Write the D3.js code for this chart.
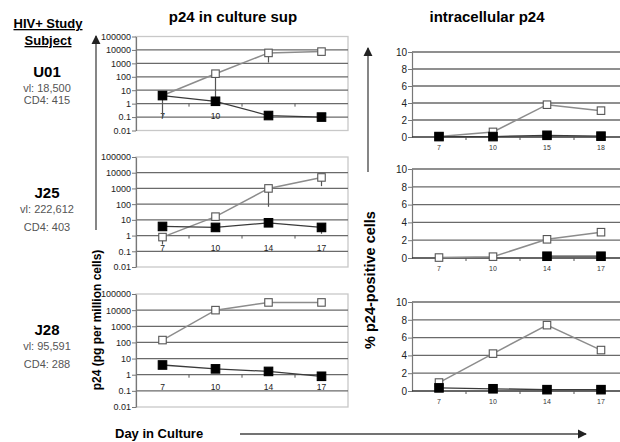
<!DOCTYPE html>
<html>
<head>
<meta charset="utf-8">
<script src="https://cdn.jsdelivr.net/npm/d3@7"></script>
<style>
body { margin: 0; background: #fff; }
text { font-family: "Liberation Sans", Arial, sans-serif; }
</style>
</head>
<body>
<svg id="chart" width="620" height="442"></svg>
<script>
// subjects
const subjects = ['U01', 'J25', 'J28'];
const viralLoads = ['vl: 18,500', 'vl: 222,612', 'vl: 95,591'];
const cd4Counts = ['CD4: 415', 'CD4: 403', 'CD4: 288'];

// p24 in culture sup (pg per million cells), log scale
const supDays = [['7', '10', '14', '17'], ['7', '10', '14', '17'], ['7', '10', '14', '17']];
const supOpen = [[4, 170, 6000, 7500], [0.8, 16, 1000, 5000], [140, 10000, 30000, 30000]];
const supFilled = [[4, 1.5, 0.13, 0.1], [3.8, 3.3, 6.5, 3.3], [4, 2.3, 1.6, 0.8]];
// lower ends of the error bars (null = none drawn)
const supOpenLow = [[null, 1.6, 1150, null], [0.27, null, 68, 1400], [null, null, null, null]];
const supFilledLow = [[0.1, null, null, null], [null, null, null, 1.3], [null, null, null, null]];
const supTicks = [0.01, 0.1, 1, 10, 100, 1000, 10000, 100000];

// intracellular p24 (% positive cells)
const intraDays = [['7', '10', '15', '18'], ['7', '10', '14', '17'], ['7', '10', '14', '17']];
const intraOpen = [[0.05, 0.6, 3.8, 3.1], [0.05, 0.15, 2.1, 2.9], [0.95, 4.2, 7.4, 4.6]];
const intraFilled = [[0.05, 0.05, 0.2, 0.1], [null, null, 0.2, 0.2], [0.35, 0.25, 0.15, 0.15]];
const intraTicks = [0, 2, 4, 6, 8, 10];

var svg = d3.select('#chart');

var leftSlots = [[36.5, 130.5], [157, 267], [294, 407]];
var rightSlots = [[52, 137], [169, 258], [302, 391]];

function drawSeries(g, x, y, days, values, lows, kind) {
  var pts = days.map(function (d, i) { return {day: d, v: values[i], low: lows ? lows[i] : null}; })
    .filter(function (p) { return p.v !== null; });

  var line = d3.line().x(function (p) { return x(p.day); }).y(function (p) { return y(p.v); });
  g.append('path')
    .attr('d', line(pts))
    .attr('fill', 'none')
    .attr('stroke', kind === 'open' ? '#8c8c8c' : '#3a3a3a')
    .attr('stroke-width', kind === 'open' ? 1.5 : 1.3);

  g.selectAll('.err-' + kind).data(pts.filter(function (p) { return p.low !== null; }))
    .enter().append('line')
    .attr('x1', function (p) { return x(p.day); })
    .attr('x2', function (p) { return x(p.day); })
    .attr('y1', function (p) { return y(p.v); })
    .attr('y2', function (p) { return y(p.low); })
    .attr('stroke', '#555')
    .attr('stroke-width', 1.2);

  var s = kind === 'open' ? 7.5 : 8.5;
  g.selectAll('.mk-' + kind).data(pts).enter().append('rect')
    .attr('x', function (p) { return x(p.day) - s / 2; })
    .attr('y', function (p) { return y(p.v) - s / 2; })
    .attr('width', s)
    .attr('height', s)
    .attr('fill', kind === 'open' ? '#fff' : '#000')
    .attr('stroke', kind === 'open' ? '#555' : '#000')
    .attr('stroke-width', 1.1);
}

function drawSupPanel(i) {
  var top = leftSlots[i][0], bottom = leftSlots[i][1];
  var x = d3.scalePoint().domain(supDays[i]).range([136, 348]).padding(0.5);
  var y = d3.scaleLog().domain([0.01, 100000]).range([bottom, top]);
  var g = svg.append('g');

  g.append('rect')
    .attr('x', 136).attr('y', top).attr('width', 212).attr('height', bottom - top)
    .attr('fill', 'none').attr('stroke', '#c8c8c8').attr('stroke-width', 1.3);

  g.selectAll('.grid').data(supTicks.slice(1, -1)).enter().append('line')
    .attr('x1', 136).attr('x2', 348)
    .attr('y1', function (d) { return y(d); }).attr('y2', function (d) { return y(d); })
    .attr('stroke', '#6a6a6a').attr('stroke-width', 1.3);

  var ax = g.append('g').attr('transform', 'translate(136,0)')
    .call(d3.axisLeft(y).tickValues(supTicks).tickFormat(String).tickSize(4).tickSizeOuter(0));
  ax.select('.domain').attr('stroke', '#777').attr('stroke-width', 1.2);
  ax.selectAll('.tick line').attr('stroke', '#777');
  ax.selectAll('text').attr('font-size', 9).attr('fill', '#222').attr('x', -5);

  // category axis crosses at 1
  var y1 = y(1);
  var step = x.step();
  g.selectAll('.xt').data(d3.range(1, supDays[i].length)).enter().append('line')
    .attr('x1', function (k) { return 136 + k * step; })
    .attr('x2', function (k) { return 136 + k * step; })
    .attr('y1', y1).attr('y2', y1 + 3)
    .attr('stroke', '#555');
  g.selectAll('.xl').data(supDays[i]).enter().append('text')
    .attr('x', function (d) { return x(d); })
    .attr('y', y1 + 15)
    .attr('text-anchor', 'middle')
    .attr('font-size', 8.5)
    .attr('fill', '#222')
    .text(function (d) { return d; });

  drawSeries(g, x, y, supDays[i], supOpen[i], supOpenLow[i], 'open');
  drawSeries(g, x, y, supDays[i], supFilled[i], supFilledLow[i], 'filled');
}

function drawIntraPanel(i) {
  var top = rightSlots[i][0], bottom = rightSlots[i][1];
  var x = d3.scalePoint().domain(intraDays[i]).range([412, 628]).padding(0.5);
  var y = d3.scaleLinear().domain([0, 10]).range([bottom, top]);
  var g = svg.append('g');

  g.selectAll('.grid').data(intraTicks.slice(1)).enter().append('line')
    .attr('x1', 412).attr('x2', 628)
    .attr('y1', function (d) { return y(d); }).attr('y2', function (d) { return y(d); })
    .attr('stroke', '#6a6a6a').attr('stroke-width', 1.3);

  var ax = g.append('g').attr('transform', 'translate(412,0)')
    .call(d3.axisLeft(y).tickValues(intraTicks).tickSize(4).tickSizeOuter(0));
  ax.select('.domain').attr('stroke', '#777').attr('stroke-width', 1.2);
  ax.selectAll('.tick line').attr('stroke', '#777');
  ax.selectAll('text').attr('font-size', 10).attr('fill', '#222').attr('x', -5);

  g.append('line').attr('x1', 412).attr('x2', 628).attr('y1', y(0)).attr('y2', y(0))
    .attr('stroke', '#333').attr('stroke-width', 1.6);
  var step = x.step();
  g.selectAll('.xt').data(d3.range(1, intraDays[i].length)).enter().append('line')
    .attr('x1', function (k) { return 412 + k * step; })
    .attr('x2', function (k) { return 412 + k * step; })
    .attr('y1', y(0)).attr('y2', y(0) + 3)
    .attr('stroke', '#555');
  g.selectAll('.xl').data(intraDays[i]).enter().append('text')
    .attr('x', function (d) { return x(d); })
    .attr('y', y(0) + 13)
    .attr('text-anchor', 'middle')
    .attr('font-size', 7)
    .attr('fill', '#333')
    .text(function (d) { return d; });

  drawSeries(g, x, y, intraDays[i], intraOpen[i], null, 'open');
  drawSeries(g, x, y, intraDays[i], intraFilled[i], null, 'filled');
}

d3.range(3).forEach(drawSupPanel);
d3.range(3).forEach(drawIntraPanel);

// titles
svg.append('text').attr('x', 233).attr('y', 22).attr('text-anchor', 'middle')
  .attr('font-size', 15).attr('font-weight', 'bold').text('p24 in culture sup');
svg.append('text').attr('x', 487).attr('y', 22).attr('text-anchor', 'middle')
  .attr('font-size', 15).attr('font-weight', 'bold').text('intracellular p24');

// subject column
svg.append('text').attr('x', 48).attr('y', 28).attr('text-anchor', 'middle')
  .attr('font-size', 13).attr('font-weight', 'bold').attr('text-decoration', 'underline')
  .text('HIV+ Study');
svg.append('text').attr('x', 48).attr('y', 45).attr('text-anchor', 'middle')
  .attr('font-size', 13).attr('font-weight', 'bold').attr('text-decoration', 'underline')
  .text('Subject');

var subjY = [77, 198, 335];
subjects.forEach(function (s, i) {
  svg.append('text').attr('x', 47).attr('y', subjY[i]).attr('text-anchor', 'middle')
    .attr('font-size', 15).attr('font-weight', 'bold').text(s);
  svg.append('text').attr('x', 47).attr('y', subjY[i] + 15).attr('text-anchor', 'middle')
    .attr('font-size', 11).attr('fill', '#555').text(viralLoads[i]);
  svg.append('text').attr('x', 47).attr('y', subjY[i] + (i === 0 ? 27 : 33)).attr('text-anchor', 'middle')
    .attr('font-size', 11).attr('fill', '#555').text(cd4Counts[i]);
});

// axis titles and arrows
svg.append('defs').append('marker')
  .attr('id', 'arrow').attr('viewBox', '0 0 10 10').attr('refX', 9).attr('refY', 5)
  .attr('markerWidth', 7).attr('markerHeight', 7).attr('orient', 'auto')
  .append('path').attr('d', 'M0,0L10,5L0,10z').attr('fill', '#222');

function arrow(x1, y1, x2, y2) {
  svg.append('line').attr('x1', x1).attr('y1', y1).attr('x2', x2).attr('y2', y2)
    .attr('stroke', '#444').attr('stroke-width', 1.3).attr('marker-end', 'url(#arrow)');
}
arrow(96, 230, 96, 36);
arrow(368, 172, 368, 48);
arrow(240, 434, 586, 434);

svg.append('text').attr('transform', 'translate(101,320) rotate(-90)')
  .attr('text-anchor', 'middle').attr('font-size', 12).attr('font-weight', 'bold')
  .text('p24 (pg per million cells)');
svg.append('text').attr('transform', 'translate(375,280) rotate(-90)')
  .attr('text-anchor', 'middle').attr('font-size', 14.5).attr('font-weight', 'bold')
  .text('% p24-positive cells');
svg.append('text').attr('x', 115).attr('y', 438)
  .attr('font-size', 13).attr('font-weight', 'bold').text('Day in Culture');
</script>
</body>
</html>
